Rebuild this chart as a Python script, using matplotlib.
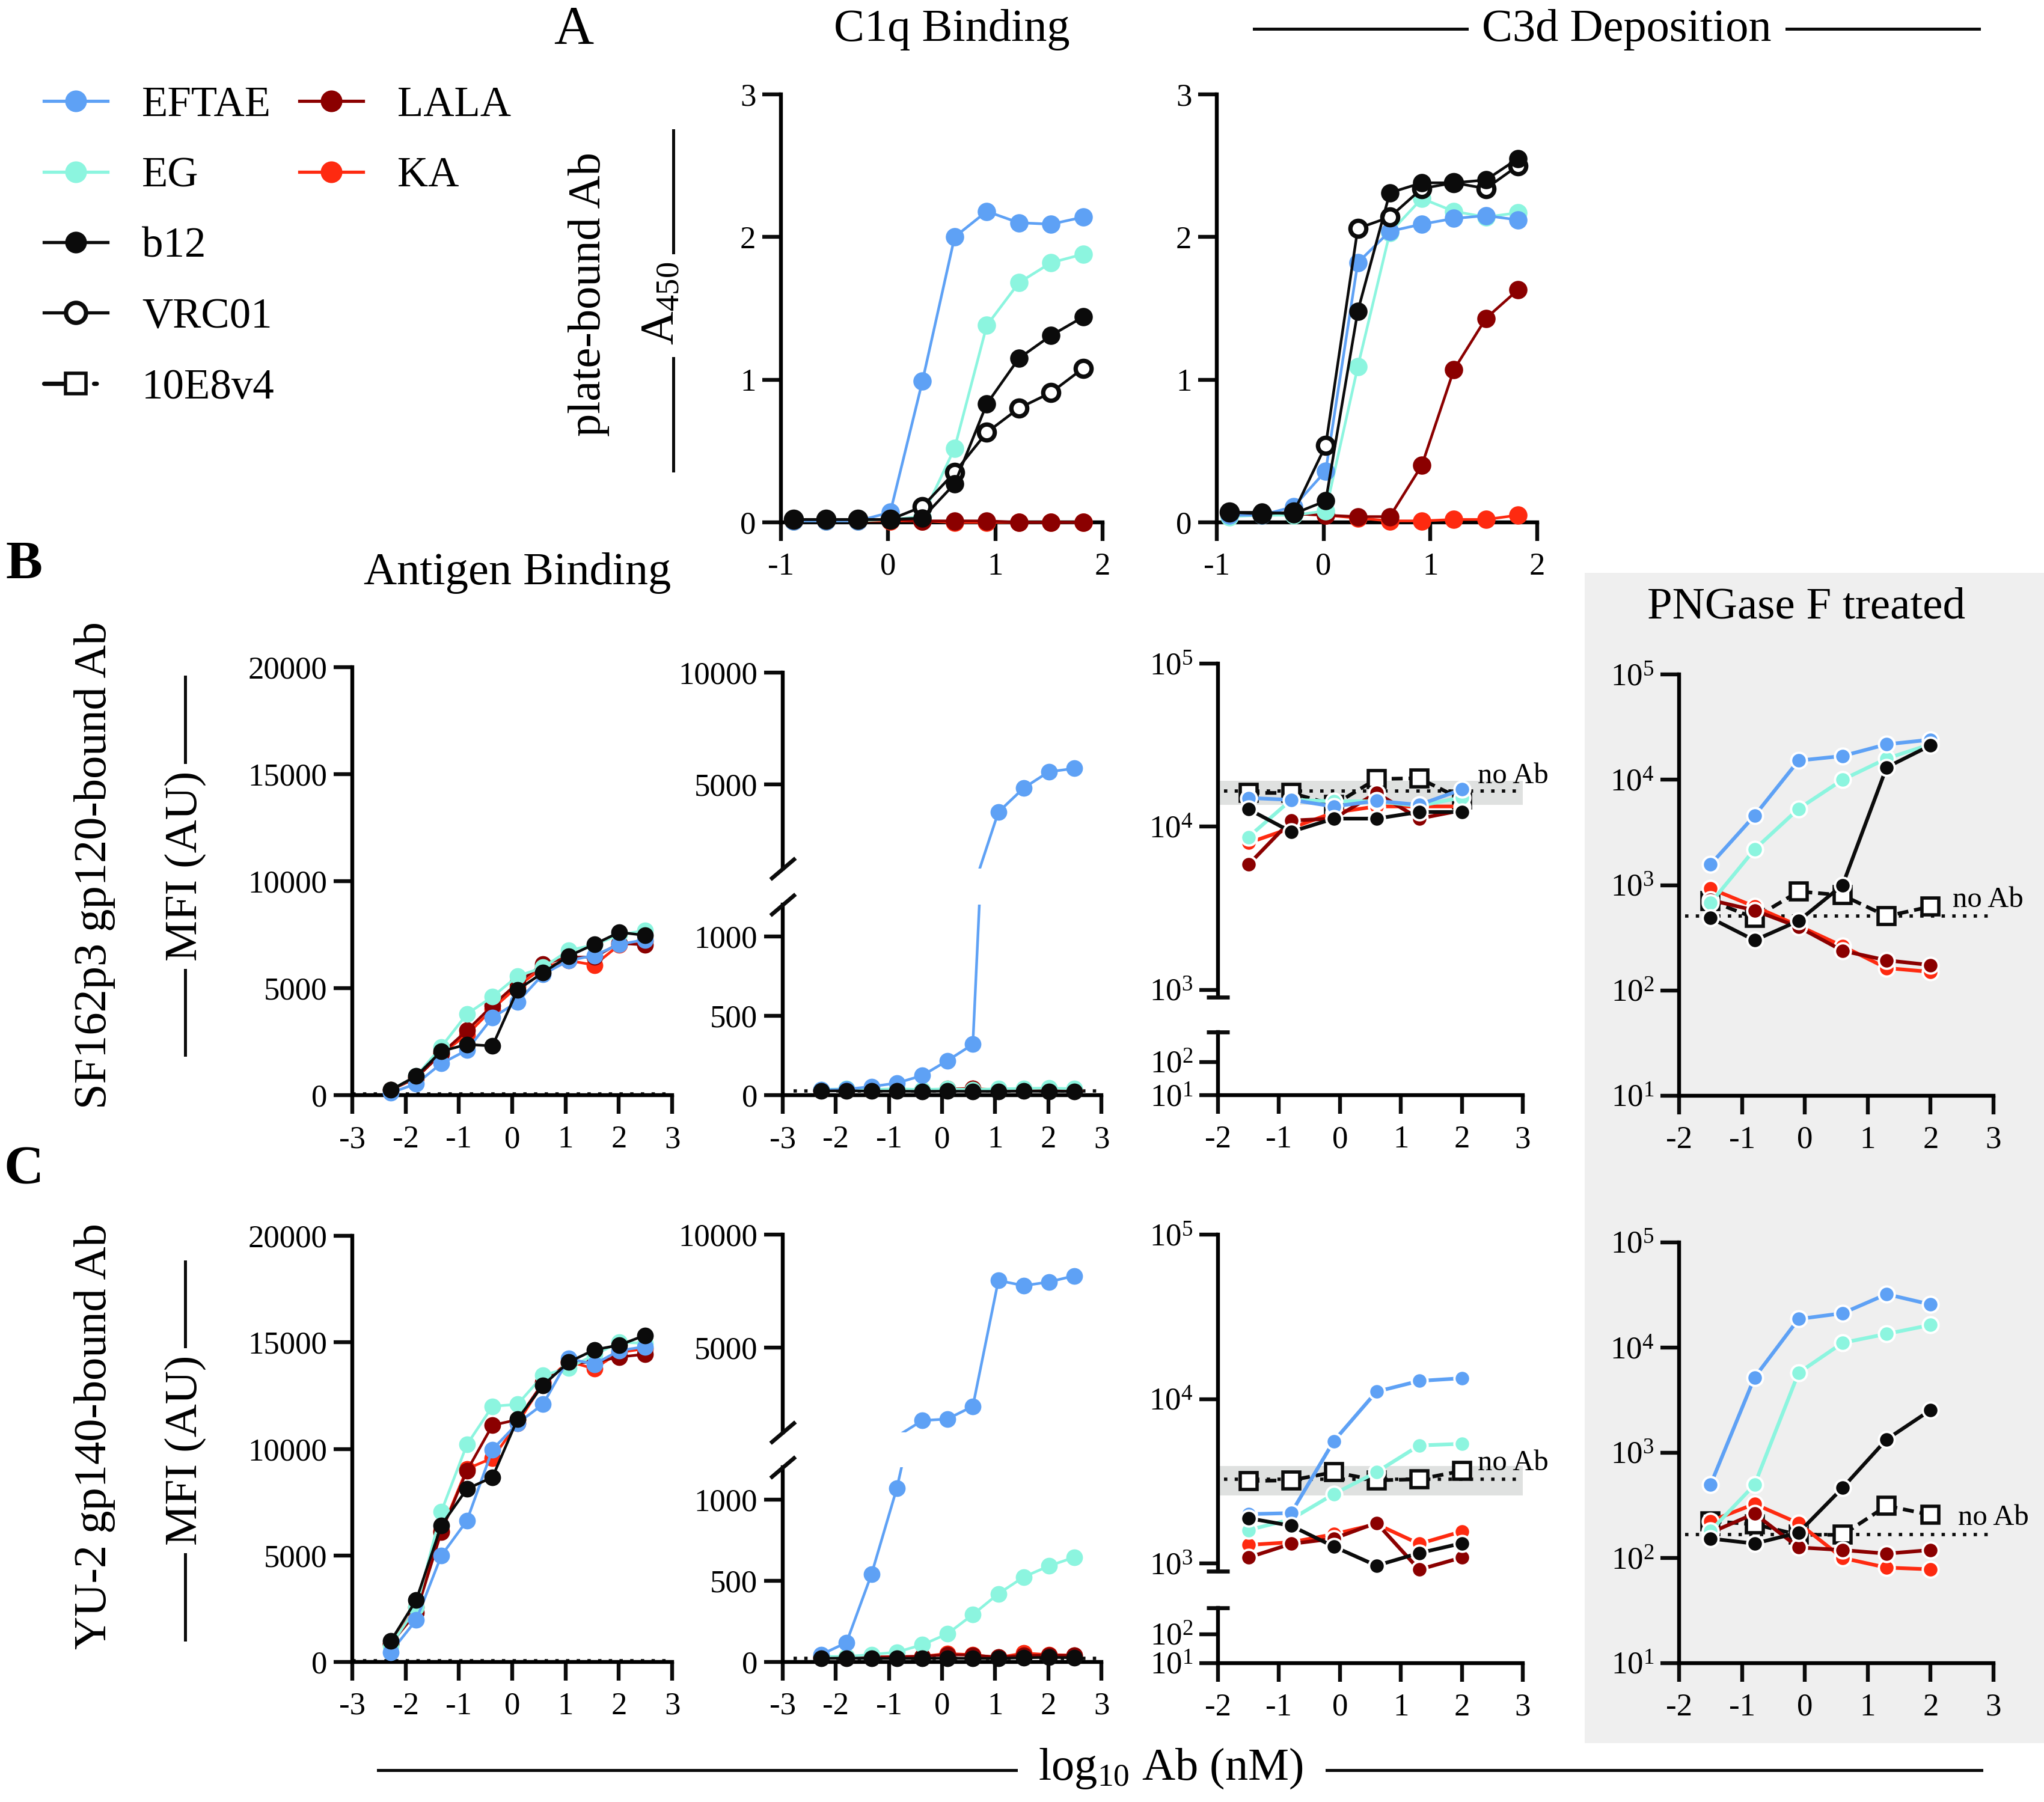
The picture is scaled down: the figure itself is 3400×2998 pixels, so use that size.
import numpy as np
import matplotlib
matplotlib.use('Agg')
import matplotlib.pyplot as plt
from matplotlib.lines import Line2D
from matplotlib.patches import Rectangle
from matplotlib.ticker import NullLocator

plt.rcParams['font.family'] = ['Liberation Serif', 'DejaVu Serif']
plt.rcParams['mathtext.fontset'] = 'custom'
plt.rcParams['mathtext.rm'] = 'Liberation Serif'
plt.rcParams['mathtext.it'] = 'Liberation Serif:italic'
plt.rcParams['axes.unicode_minus'] = False

W, H = 3400, 2998

# x values, log10 Ab (nM)
x_elisa = [-0.88, -0.58, -0.28, 0.02, 0.32, 0.62, 0.92, 1.22, 1.52, 1.82]
x_ag = [-2.28, -1.80, -1.33, -0.85, -0.37, 0.10, 0.58, 1.06, 1.54, 2.01, 2.49]
x_fc = [-1.5, -0.8, -0.1, 0.6, 1.3, 2.0]

# A: plate-bound Ab, A450
c1q_plate = {
    'EFTAE': [0.01, 0.01, 0.01, 0.07, 0.99, 2.00, 2.18, 2.10, 2.09, 2.14],
    'EG':    [0.01, 0.01, 0.01, 0.02, 0.04, 0.52, 1.38, 1.68, 1.82, 1.88],
    'b12':   [0.02, 0.02, 0.02, 0.02, 0.03, 0.27, 0.83, 1.15, 1.31, 1.44],
    'VRC01': [0.02, 0.02, 0.02, 0.02, 0.11, 0.35, 0.63, 0.80, 0.91, 1.08],
    'LALA':  [0.02, 0.02, 0.02, 0.02, 0.01, 0.01, 0.01, 0.00, 0.00, 0.00],
    'KA':    [0.01, 0.01, 0.01, 0.01, 0.01, 0.00, 0.00, 0.00, 0.00, 0.00],
}
c3d_plate = {
    'EFTAE': [0.05, 0.05, 0.11, 0.36, 1.82, 2.04, 2.09, 2.13, 2.15, 2.12],
    'EG':    [0.04, 0.05, 0.05, 0.08, 1.09, 2.03, 2.27, 2.18, 2.14, 2.17],
    'b12':   [0.07, 0.07, 0.06, 0.15, 1.48, 2.31, 2.38, 2.38, 2.40, 2.55],
    'VRC01': [0.07, 0.06, 0.07, 0.54, 2.06, 2.14, 2.34, 2.38, 2.34, 2.50],
    'LALA':  [0.07, 0.06, 0.06, 0.05, 0.04, 0.04, 0.40, 1.07, 1.43, 1.63],
    'KA':    [0.06, 0.06, 0.06, 0.05, 0.03, 0.01, 0.01, 0.02, 0.02, 0.05],
}

# B: SF162p3 gp120-bound Ab, MFI (AU)
ag_gp120 = {
    'EFTAE': [110, 530, 1480, 2100, 3630, 4350, 5650, 6290, 6530, 7050, 7260],
    'EG':    [240, 890, 2260, 3790, 4600, 5560, 5970, 6770, 7020, 7500, 7690],
    'b12':   [240, 890, 2050, 2370, 2300, 4920, 5730, 6500, 7050, 7610, 7470],
    'LALA':  [240, 810, 1940, 3020, 4190, 5240, 6130, 6450, 6450, 7100, 7020],
    'KA':    [240, 810, 1940, 2820, 4030, 5080, 5970, 6290, 6080, 7020, 7180],
}
c1q_gp120 = {
    'EFTAE': [33, 37, 54, 76, 124, 217, 320, 3770, 4850, 5570, 5720],
    'EG':    [35, 40, 35, 40, 35, 40, 35, 40, 42, 45, 40],
    'b12':   [26, 28, 25, 25, 24, 25, 24, 24, 25, 24, 24],
    'LALA':  [30, 32, 30, 33, 30, 38, 40, 32, 35, 35, 34],
    'KA':    [30, 32, 30, 32, 31, 40, 42, 33, 36, 36, 35],
}
c3d_gp120 = {
    'EFTAE':  [15000, 14600, 13300, 14400, 13600, 16900],
    'EG':     [8630, 14600, 14300, 14300, 13400, 15100],
    'b12':    [12800, 9300, 11200, 11200, 12300, 12300],
    'LALA':   [5850, 10900, 11200, 16100, 11200, 12600],
    'KA':     [7950, 9800, 12200, 13300, 13300, 13300],
    '10E8v4': [16100, 16100, 13600, 19600, 19800, 14700],
}
c3d_gp120_png = {
    'EFTAE':  [1570, 4560, 15200, 16800, 21700, 24000],
    'EG':     [675, 2180, 5300, 10000, 15900, 21700],
    'b12':    [487, 299, 457, 1000, 13100, 21200],
    'LALA':   [721, 575, 400, 238, 193, 174],
    'KA':     [927, 625, 411, 263, 163, 150],
    '10E8v4': [710, 487, 870, 800, 507, 625],
}

# C: YU-2 gp140-bound Ab, MFI (AU)
ag_gp140 = {
    'EFTAE': [460, 1970, 4990, 6630, 9970, 11200, 12100, 14240, 13970, 14620, 14790],
    'EG':    [770, 2560, 7060, 10200, 12000, 12090, 13450, 13800, 14410, 15000, 14960],
    'b12':   [974, 2906, 6410, 8120, 8670, 11400, 12990, 14070, 14650, 14870, 15330],
    'LALA':  [855, 2310, 6100, 8970, 11110, 11370, 13110, 14020, 14070, 14310, 14440],
    'KA':    [855, 2560, 6150, 9060, 9570, 11200, 13080, 14100, 13760, 14530, 14700],
}
c1q_gp140 = {
    'EFTAE': [45, 119, 539, 1072, 1774, 1839, 2403, 7968, 7742, 7903, 8177],
    'EG':    [34, 34, 45, 61, 106, 173, 292, 420, 524, 591, 645],
    'b12':   [22, 24, 22, 22, 22, 24, 22, 22, 26, 28, 26],
    'LALA':  [30, 28, 30, 32, 35, 45, 42, 30, 40, 42, 40],
    'KA':    [28, 25, 30, 33, 35, 52, 45, 28, 55, 45, 42],
}
c3d_gp140 = {
    'EFTAE':  [2000, 2030, 5560, 11100, 12900, 13400],
    'EG':     [1600, 1860, 2650, 3600, 5230, 5350],
    'b12':    [1890, 1700, 1270, 973, 1160, 1330],
    'LALA':   [1090, 1320, 1420, 1770, 920, 1090],
    'KA':     [1300, 1350, 1510, 1740, 1320, 1570],
    '10E8v4': [3180, 3210, 3600, 3210, 3260, 3660],
}
c3d_gp140_png = {
    'EFTAE':  [497, 5200, 18700, 21200, 32200, 25700],
    'EG':     [181, 497, 5750, 11100, 13500, 16400],
    'b12':    [153, 137, 174, 464, 1340, 2550],
    'LALA':   [174, 264, 126, 119, 110, 119],
    'KA':     [224, 326, 214, 100, 81, 78],
    '10E8v4': [224, 209, 166, 166, 313, 257],
}

# no Ab background levels (and range for the grey band)
noab_gp120 = [60, 25, 16500, 507]
noab_gp140 = [60, 22, 3260, 166]
band_gp120 = [13600, 19100]
band_gp140 = [2590, 3930]

ORDER = ['10E8v4', 'KA', 'LALA', 'EG', 'EFTAE', 'VRC01', 'b12']
COLORS = {'EFTAE': '#5ea1f5', 'EG': '#8cf5df', 'b12': '#0b0b0b', 'VRC01': '#0b0b0b',
          'LALA': '#8b0000', 'KA': '#fe2a10', '10E8v4': '#0b0b0b'}
LEG1 = ['EFTAE', 'EG', 'b12', 'VRC01', '10E8v4']
LEG2 = ['LALA', 'KA']

TICK_FS = 19
TITLE_FS = 27.5

fig = plt.figure(figsize=(17, 14.99), dpi=200)


def fx(x):
    return x / W


def fy(y):
    return 1 - y / H


def add_ax(x0, x1, ytop, ybot):
    return fig.add_axes([x0 / W, 1 - ybot / H, (x1 - x0) / W, (ybot - ytop) / H])


def style_for(name, logpanel, ms):
    c = COLORS[name]
    st = dict(color=c, lw=2.2 if logpanel else 1.6, ls='-', marker='o', ms=ms,
              mfc=c, mec='white' if logpanel else c, mew=1.4 if logpanel else 0, zorder=3)
    if name == 'VRC01':
        st.update(mfc='white', mec=c, mew=2.6, ms=ms - 1.5)
    if name == '10E8v4':
        st.update(marker='s', mfc='white', mec=c, mew=2.0, ms=10, ls=(0, (3, 1.6)))
    return st


def style_ax(ax, bottom=True):
    ax.set_facecolor('none')
    for s in ('top', 'right'):
        ax.spines[s].set_visible(False)
    for s in ('left', 'bottom'):
        ax.spines[s].set_linewidth(2.3)
    ax.tick_params(length=11, width=2.3, labelsize=TICK_FS, color='#0b0b0b')
    ax.tick_params(axis='x', pad=7)
    ax.tick_params(axis='y', pad=4)
    if not bottom:
        ax.spines['bottom'].set_visible(False)
        ax.tick_params(axis='x', bottom=False, labelbottom=False)


def draw(ax, x, data, logpanel=False, ms=10, lo=None, hi=None):
    for name in ORDER:
        if name not in data:
            continue
        y = np.asarray(data[name], float)
        st = style_for(name, logpanel, ms)
        if lo is None and hi is None:
            ax.plot(x, y, clip_on=False, **st)
            continue
        # broken axis: lines clipped, markers only for points in range
        ax.plot(x, y, color=st['color'], lw=st['lw'], ls=st['ls'], zorder=3, clip_on=True)
        keep = np.ones(len(y), bool)
        if lo is not None:
            keep &= y >= lo
        if hi is not None:
            keep &= y <= hi
        mk = {k: v for k, v in st.items() if k not in ('lw', 'ls')}
        ax.plot(np.asarray(x)[keep], y[keep], ls='none', clip_on=False, **mk)


def log_ticks(ax, exps):
    ax.set_yscale('log')
    ax.set_yticks([10.0 ** e for e in exps])
    ax.set_yticklabels([r'$10^{%d}$' % e for e in exps])
    ax.yaxis.set_minor_locator(NullLocator())


SLASH = [(-1, -0.85), (1, 0.85)]
CAP = [(-1, 0), (1, 0)]


def break_mark(ax, ypos, path, ms):
    ax.plot([0], [ypos], transform=ax.transAxes, marker=path, ms=ms, mew=2.4,
            color='#0b0b0b', ls='none', clip_on=False, zorder=4)


def noab(ax, y, x0, x1, band=None):
    if band is not None:
        ax.axhspan(band[0], band[1], color='#dfe1e0', zorder=0, lw=0)
    ax.hlines(y, x0, x1, colors='#0b0b0b', linestyles=(0, (1, 2.2)), lw=2.0, zorder=1)


# grey background behind PNGase F panels
fig.add_artist(Rectangle((fx(2636), fy(2900)), fx(3400 - 2636), (2900 - 953) / H,
                         transform=fig.transFigure, color='#efefef', zorder=-1, lw=0))

# ---- row A
for (x0, x1), data in zip([(1299, 1834), (2024, 2557)], [c1q_plate, c3d_plate]):
    ax = add_ax(x0, x1, 157, 869)
    style_ax(ax)
    draw(ax, x_elisa, data, ms=11)
    ax.set_xlim(-1, 2)
    ax.set_ylim(0, 3)
    ax.set_xticks([-1, 0, 1, 2])
    ax.set_yticks([0, 1, 2, 3])

# ---- rows B and C
rows = [
    (ag_gp120, c1q_gp120, c3d_gp120, c3d_gp120_png, noab_gp120, band_gp120,
     dict(lin=(1110, 1822), up2=(1119, 1445), lo2=(1505, 1822), up3=(1104, 1659),
          lo3=(1717, 1822), log4=(1122, 1823),
          txt3=(2.26, 20400), txt4=(2.35, 721))),
    (ag_gp140, c1q_gp140, c3d_gp140, c3d_gp140_png, noab_gp140, band_gp140,
     dict(lin=(2056, 2765), up2=(2054, 2383), lo2=(2441, 2765), up3=(2054, 2614),
          lo3=(2675, 2767), log4=(2067, 2767),
          txt3=(2.26, 4090), txt4=(2.44, 243))),
]

for ag, c1q, c3d, png, nab, band, pos in rows:
    # antigen binding
    ax = add_ax(586, 1118, *pos['lin'])
    style_ax(ax)
    noab(ax, nab[0], -3, 3)
    draw(ax, x_ag, ag, ms=10)
    ax.set_xlim(-3, 3)
    ax.set_ylim(0, 20000)
    ax.set_xticks(range(-3, 4))
    ax.set_yticks([0, 5000, 10000, 15000, 20000])

    # C1q binding, broken linear axis
    axu = add_ax(1302, 1832, *pos['up2'])
    axl = add_ax(1302, 1832, *pos['lo2'])
    style_ax(axu, bottom=False)
    style_ax(axl)
    for a in (axu, axl):
        a.set_xlim(-3, 3)
        noab(a, nab[1], -2.8, 2.95)
    axu.set_ylim(1250, 10000)
    axl.set_ylim(0, 1200)
    draw(axu, x_ag, c1q, ms=10, lo=1250)
    draw(axl, x_ag, c1q, ms=10, hi=1200)
    axu.set_yticks([5000, 10000])
    axl.set_yticks([0, 500, 1000])
    axl.set_xticks(range(-3, 4))
    break_mark(axu, 0, SLASH, 15)
    break_mark(axl, 1, SLASH, 15)

    # C3d deposition, broken log axis
    axu = add_ax(2026, 2533, *pos['up3'])
    axl = add_ax(2026, 2533, *pos['lo3'])
    style_ax(axu, bottom=False)
    style_ax(axl)
    for a in (axu, axl):
        a.set_xlim(-2, 3)
    log_ticks(axu, [3, 4, 5])
    log_ticks(axl, [1, 2])
    axu.set_ylim(900, 1e5)
    axl.set_ylim(10, 800)
    noab(axu, nab[2], -1.9, 2.97, band)
    draw(axu, x_fc, c3d, logpanel=True, ms=9.5)
    axl.set_xticks(range(-2, 4))
    break_mark(axu, 0, CAP, 14)
    break_mark(axl, 1, CAP, 14)
    axu.text(pos['txt3'][0], pos['txt3'][1], 'no Ab', fontsize=17.5, va='center', ha='left')

    # C3d deposition, PNGase F treated
    ax = add_ax(2793, 3316, *pos['log4'])
    style_ax(ax)
    log_ticks(ax, [1, 2, 3, 4, 5])
    ax.set_ylim(10, 1e5)
    ax.set_xlim(-2, 3)
    noab(ax, nab[3], -1.9, 2.96)
    draw(ax, x_fc, png, logpanel=True, ms=9.5)
    ax.set_xticks(range(-2, 4))
    ax.text(pos['txt4'][0], pos['txt4'][1], 'no Ab', fontsize=17.5, va='center', ha='left')

# ---- legends
def handle(name):
    st = style_for(name, False, 13)
    st.update(lw=1.9)
    if name == 'VRC01':
        st.update(ms=12)
    if name == '10E8v4':
        st.update(ms=12, lw=2.6, ls=(0, (4.5, 7, 0.6, 10)), dash_capstyle='round')
    st.pop('zorder')
    return Line2D([], [], label=name, **st)


for names, x0 in [(LEG1, 73), (LEG2, 498)]:
    fig.legend(handles=[handle(n) for n in names], loc='upper left',
               bbox_to_anchor=(fx(x0), fy(143)), frameon=False, fontsize=25.5,
               handlelength=1.5, handletextpad=0.8, labelspacing=0.74,
               borderpad=0, borderaxespad=0)

# ---- figure texts
def hline(x0, x1, y):
    fig.add_artist(Line2D([fx(x0), fx(x1)], [fy(y), fy(y)], transform=fig.transFigure,
                          color='#0b0b0b', lw=1.8))


def vline(x, y0, y1):
    fig.add_artist(Line2D([fx(x), fx(x)], [fy(y0), fy(y1)], transform=fig.transFigure,
                          color='#0b0b0b', lw=1.8))


fig.text(fx(954), fy(51), 'A', fontsize=33, ha='center', va='center')
fig.text(fx(40), fy(941), 'B', fontsize=33, weight='bold', ha='center', va='center')
fig.text(fx(40), fy(1947), 'C', fontsize=33, weight='bold', ha='center', va='center')

fig.text(fx(1583), fy(50), 'C1q Binding', fontsize=TITLE_FS, ha='center', va='center')
fig.text(fx(2706), fy(50), 'C3d Deposition', fontsize=TITLE_FS, ha='center', va='center')
hline(2086, 2440, 48)
hline(2972, 3292, 48)
fig.text(fx(861), fy(954), 'Antigen Binding', fontsize=TITLE_FS, ha='center', va='center')
fig.text(fx(3005), fy(1011), 'PNGase F treated', fontsize=27, ha='center', va='center')

fig.text(fx(979), fy(490), 'plate-bound Ab', fontsize=TITLE_FS, rotation=90,
         ha='center', va='center')
fig.text(fx(1100), fy(505), r'A$_{450}$', fontsize=28, rotation=90, ha='center', va='center')
vline(1120, 217, 420)
vline(1120, 596, 783)

fig.text(fx(158), fy(1440), 'SF162p3 gp120-bound Ab', fontsize=TITLE_FS, rotation=90,
         ha='center', va='center')
fig.text(fx(308), fy(1441), 'MFI (AU)', fontsize=TITLE_FS, rotation=90, ha='center', va='center')
vline(308, 1126, 1268)
vline(308, 1614, 1755)

fig.text(fx(158), fy(2390), 'YU-2 gp140-bound Ab', fontsize=TITLE_FS, rotation=90,
         ha='center', va='center')
fig.text(fx(308), fy(2413), 'MFI (AU)', fontsize=TITLE_FS, rotation=90, ha='center', va='center')
vline(308, 2099, 2240)
vline(308, 2586, 2728)

fig.text(fx(1947), fy(2942), r'log$_{10}$ Ab (nM)', fontsize=TITLE_FS, ha='center', va='center')
hline(629, 1690, 2945)
hline(2207, 3296, 2945)

fig.savefig('out.png', dpi=200)
